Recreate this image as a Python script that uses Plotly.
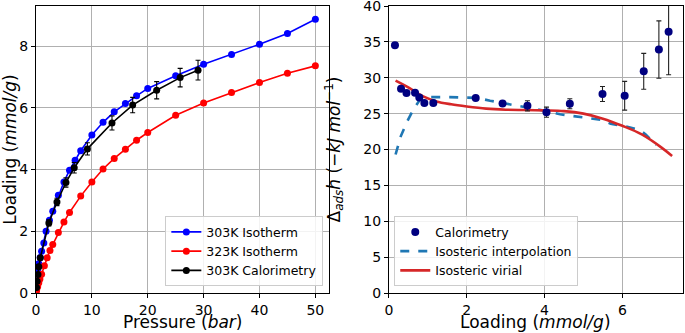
import plotly.graph_objects as go

# ---------------- Left panel data ----------------
p303 = [0.05, 0.1, 0.2, 0.3, 0.5, 0.75, 1.0, 1.4, 1.8, 2.4, 3, 4, 5, 6, 7, 8, 10, 12, 14, 16, 18, 20, 25, 30, 35, 40, 45, 50]
q303 = [0.15, 0.3, 0.5, 0.7, 0.95, 1.15, 1.35, 1.62, 2.0, 2.36, 2.65, 3.17, 3.6, 3.98, 4.3, 4.61, 5.12, 5.53, 5.87, 6.14, 6.39, 6.63, 7.04, 7.41, 7.73, 8.06, 8.41, 8.87]

p323 = [0.1, 0.3, 0.5, 0.7, 1.0, 1.5, 2.0, 2.5, 3, 4, 5, 6, 8, 10, 12, 14, 16, 18, 20, 25, 30, 35, 40, 45, 50]
q323 = [0.07, 0.2, 0.33, 0.45, 0.61, 0.88, 1.14, 1.38, 1.57, 1.96, 2.30, 2.61, 3.14, 3.60, 4.02, 4.36, 4.66, 4.95, 5.20, 5.76, 6.16, 6.50, 6.82, 7.12, 7.36]

pcal = [0.1, 0.2, 0.35, 0.5, 0.77, 2.3, 3.75, 5.36, 6.84, 9.2, 13.6, 17.3, 21.6, 25.8, 29.0]
qcal = [0.18, 0.38, 0.6, 0.85, 1.14, 2.27, 2.95, 3.58, 4.06, 4.67, 5.51, 6.09, 6.57, 6.98, 7.22]
qcal_err = [0.01, 0.02, 0.03, 0.04, 0.05, 0.1, 0.12, 0.15, 0.17, 0.2, 0.23, 0.25, 0.28, 0.3, 0.32]

# ---------------- Right panel data ----------------
cal_loading = [0.154, 0.31, 0.45, 0.67, 0.78, 0.91, 1.14, 2.23, 2.92, 3.56, 4.05, 4.65, 5.49, 6.06, 6.55, 6.94, 7.19]
cal_enthalpy = [34.54, 28.47, 27.87, 27.9, 27.26, 26.47, 26.47, 27.17, 26.42, 26.09, 25.2, 26.37, 27.73, 27.49, 30.9, 33.93, 36.41]
cal_err = [0.1, 0.1, 0.1, 0.1, 0.1, 0.1, 0.1, 0.2, 0.3, 0.7, 0.7, 0.7, 1.05, 2.0, 2.5, 4.0, 6.0]

interp_loading = [0.17, 0.3, 0.45, 0.62, 0.79, 1.0, 1.5, 2.0, 2.25, 2.6, 3.0, 3.5, 4.0, 4.4, 4.9, 5.3, 5.5, 5.7, 6.1, 6.45, 6.6, 6.87]
interp_enthalpy = [19.3, 21.8, 23.7, 25.5, 26.9, 27.3, 27.3, 27.25, 27.2, 26.8, 26.4, 26.0, 25.4, 24.9, 24.5, 24.2, 24.1, 23.6, 23.2, 22.7, 22.1, 20.6]

virial_loading = [0.17, 0.45, 0.88, 1.22, 1.6, 2.0, 2.5, 3.0, 3.5, 4.0, 4.5, 5.0, 5.5, 6.0, 6.5, 7.0, 7.28]
virial_enthalpy = [29.6, 28.8, 27.4, 26.7, 26.3, 26.0, 25.7, 25.55, 25.5, 25.45, 25.35, 25.0, 24.3, 23.3, 22.1, 20.3, 19.1]

FONT = "DejaVu Sans"

fig = go.Figure()

fig.add_trace(go.Scatter(x=p303, y=q303, mode="lines+markers", name="303K Isotherm",
                         line=dict(color="#0000ff", width=1.6), marker=dict(color="#0000ff", size=7),
                         xaxis="x", yaxis="y", legend="legend"))
fig.add_trace(go.Scatter(x=p323, y=q323, mode="lines+markers", name="323K Isotherm",
                         line=dict(color="#ff0000", width=1.6), marker=dict(color="#ff0000", size=7),
                         xaxis="x", yaxis="y", legend="legend"))
fig.add_trace(go.Scatter(x=pcal, y=qcal, mode="lines+markers", name="303K Calorimetry",
                         line=dict(color="#000000", width=1.6), marker=dict(color="#000000", size=7),
                         error_y=dict(type="data", array=qcal_err, color="#000000", thickness=1.1, width=2.5),
                         xaxis="x", yaxis="y", legend="legend"))

fig.add_trace(go.Scatter(x=interp_loading, y=interp_enthalpy, mode="lines", name="Isosteric interpolation",
                         line=dict(color="#1f77b4", width=2.6, dash="dash"),
                         xaxis="x2", yaxis="y2", legend="legend2", legendrank=2))
fig.add_trace(go.Scatter(x=virial_loading, y=virial_enthalpy, mode="lines", name="Isosteric virial",
                         line=dict(color="#d62728", width=2.6, shape="spline"),
                         xaxis="x2", yaxis="y2", legend="legend2", legendrank=3))
fig.add_trace(go.Scatter(x=cal_loading, y=cal_enthalpy, mode="markers", name="Calorimetry",
                         marker=dict(color="#000080", size=8),
                         error_y=dict(type="data", array=cal_err, color="#222222", thickness=1.1, width=2.5),
                         xaxis="x2", yaxis="y2", legend="legend2", legendrank=1))

axis_common = dict(showline=True, linecolor="black", linewidth=1, mirror=True,
                   ticks="outside", ticklen=4, tickcolor="black", tickwidth=1,
                   showgrid=True, gridcolor="#b0b0b0", gridwidth=1, zeroline=False,
                   ticklabeloverflow="allow",
                   tickfont=dict(family=FONT, size=14, color="black"), automargin=False)

L, R, T, B = 35.7, 1.7, 6, 40.3
W, H = 685, 333
pw = W - L - R
ph = H - T - B

xdom1 = [0, (329.3 - L) / pw]
xdom2 = [(389 - L) / pw, 1]
xtitle_y = (H - B - 322.0) / ph

fig.update_layout(
    width=W, height=H,
    margin=dict(l=L, r=R, t=T, b=B, autoexpand=False),
    paper_bgcolor="white", plot_bgcolor="white",
    font=dict(family=FONT, color="black"),
    xaxis=dict(domain=xdom1, range=[0, 52.5], tickvals=[0, 10, 20, 30, 40, 50], **axis_common),
    yaxis=dict(domain=[0, 1], range=[0, 9.3], tickvals=[0, 2, 4, 6, 8],
               title=dict(text="Loading (<i>mmol/g</i>)", font=dict(size=17), standoff=7), **axis_common),
    xaxis2=dict(domain=xdom2, range=[0, 7.56], tickvals=[0, 2, 4, 6], anchor="y2", **axis_common),
    yaxis2=dict(domain=[0, 1], range=[0, 40], tickvals=list(range(0, 41, 5)), anchor="x2",
                title=dict(text="Δ<sub><i>ads</i></sub><i>h</i> (−<i>kJ mol</i><sup>−1</sup>)", font=dict(size=17), standoff=18),
                **axis_common),
    legend=dict(x=(323.3 - L) / pw, y=(H - B - 286) / ph, xanchor="right", yanchor="bottom",
                bgcolor="rgba(255,255,255,0.85)", bordercolor="#cccccc", borderwidth=1,
                font=dict(family=FONT, size=12.5), itemwidth=30, tracegroupgap=0),
    legend2=dict(x=(394.3 - L) / pw, y=(H - B - 286) / ph, xanchor="left", yanchor="bottom",
                 bgcolor="rgba(255,255,255,0.85)", bordercolor="#cccccc", borderwidth=1,
                 font=dict(family=FONT, size=12.5), itemwidth=30, tracegroupgap=0, traceorder="normal"),
    annotations=[
        dict(text="Pressure (<i>bar</i>)", x=sum(xdom1) / 2, y=xtitle_y, xref="paper", yref="paper",
             xanchor="center", yanchor="middle", showarrow=False, font=dict(family=FONT, size=17)),
        dict(text="Loading (<i>mmol/g</i>)", x=sum(xdom2) / 2, y=xtitle_y, xref="paper", yref="paper",
             xanchor="center", yanchor="middle", showarrow=False, font=dict(family=FONT, size=17)),
    ],
)

fig.write_html("out.html", config={"displayModeBar": False},
               post_script="document.body.style.margin='0';document.body.style.overflow='hidden';")
